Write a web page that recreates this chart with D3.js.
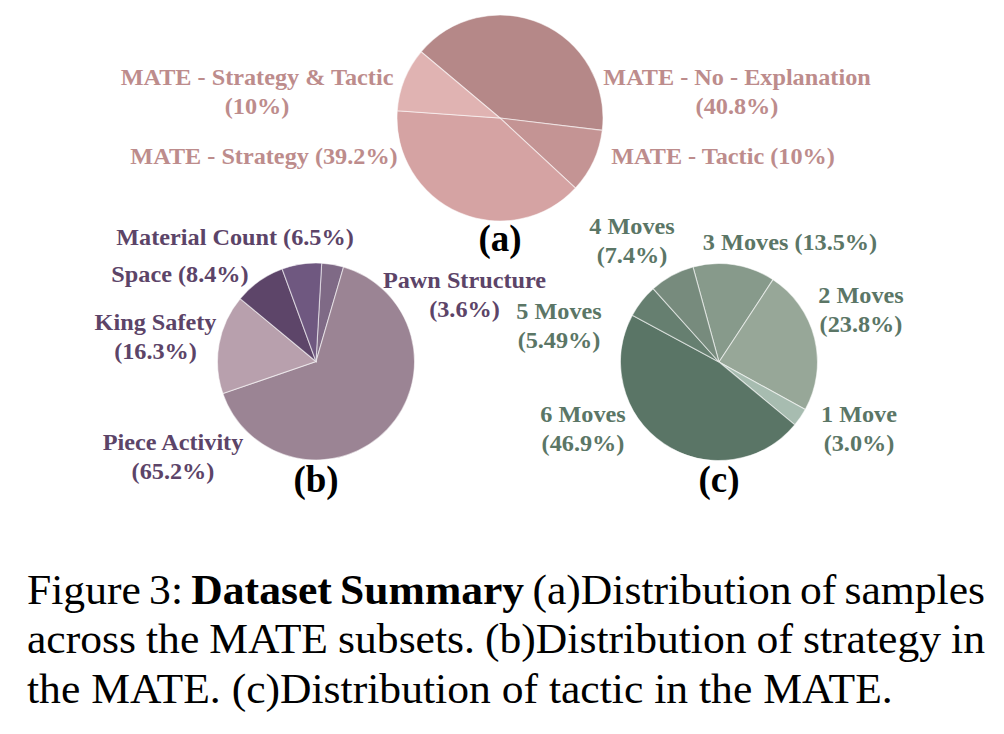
<!DOCTYPE html>
<html>
<head>
<meta charset="utf-8">
<script src="https://cdn.jsdelivr.net/npm/d3@7"></script>
<style>
  html, body { margin: 0; padding: 0; background: #fff; }
  svg { display: block; }
  text { font-family: "Liberation Serif", "Times New Roman", serif; }
</style>
</head>
<body>
<svg id="chart" width="1004" height="734"></svg>
<script>
// ---------------- data ----------------
const subsetLabels = ["MATE - No - Explanation", "MATE - Tactic", "MATE - Strategy", "MATE - Strategy & Tactic"];
const subsetValues = [40.8, 10, 39.2, 10];
const subsetPctText = ["40.8%", "10%", "39.2%", "10%"];

const strategyLabels = ["Pawn Structure", "Piece Activity", "King Safety", "Space", "Material Count"];
const strategyValues = [3.6, 65.2, 16.3, 8.4, 6.5];
const strategyPctText = ["3.6%", "65.2%", "16.3%", "8.4%", "6.5%"];

const tacticLabels = ["3 Moves", "2 Moves", "1 Move", "6 Moves", "5 Moves", "4 Moves"];
const tacticValues = [13.5, 23.8, 3.0, 46.9, 5.49, 7.4];
const tacticPctText = ["13.5%", "23.8%", "3.0%", "46.9%", "5.49%", "7.4%"];

const panelTags = ["(a)", "(b)", "(c)"];

// ---------------- styles / layout ----------------
const subsetColors = ["#b58888", "#c49494", "#d5a3a3", "#e0b3b2"];
const strategyColors = ["#7f6a86", "#9b8494", "#b8a0ad", "#5d4569", "#6f5880"];
const tacticColors = ["#879a8b", "#97a798", "#a7bcb0", "#5a7566", "#667f70", "#778b7d"];

const deg = Math.PI / 180;
const LABEL_SIZE = 24;
const LABEL_SX = 1.01;
const LINE = 29;

const panels = [
  {
    labels: subsetLabels, values: subsetValues, pct: subsetPctText, colors: subsetColors,
    textColor: "#bd8c8c", cx: 500, cy: 118, r: 103, start: -50 * deg,
    tagY: 251,
    place: [[237, -33, true], [223, 46, false], [-236, 46, false], [-243, -33, true]]
  },
  {
    labels: strategyLabels, values: strategyValues, pct: strategyPctText, colors: strategyColors,
    textColor: "#5c4468", cx: 316, cy: 361.5, r: 98.5, start: 3.3 * deg,
    tagY: 492,
    place: [[148.5, -73.5, true], [-143, 88.5, true], [-160.5, -31.5, true], [-136, -79.5, false], [-81, -116.5, false]]
  },
  {
    labels: tacticLabels, values: tacticValues, pct: tacticPctText, colors: tacticColors,
    textColor: "#5b7666", cx: 719, cy: 362, r: 98.5, start: -15.3 * deg,
    tagY: 492,
    place: [[71, -112.5, false], [142, -58.7, true], [140, 59.7, true], [-136, 59.7, true], [-160, -43, true], [-87, -128, true]]
  }
];

const svg = d3.select("#chart");

panels.forEach((p, pi) => {
  const pie = d3.pie().sort(null).value(d => d)
    .startAngle(p.start).endAngle(p.start + 2 * Math.PI);
  const arc = d3.arc().innerRadius(0).outerRadius(p.r);
  const color = d3.scaleOrdinal().domain(p.labels).range(p.colors);
  const g = svg.append("g").attr("transform", `translate(${p.cx},${p.cy})`);

  g.selectAll("path")
    .data(pie(p.values))
    .join("path")
    .attr("d", arc)
    .attr("fill", (d, i) => color(p.labels[i]))
    .attr("stroke", "rgba(255,255,255,0.55)")
    .attr("stroke-width", 1.1);

  p.labels.forEach((lab, i) => {
    const [dx, dy, two] = p.place[i];
    const t = g.append("text")
      .attr("x", dx).attr("y", dy)
      .attr("text-anchor", "middle")
      .attr("font-size", LABEL_SIZE)
      .attr("font-weight", "bold")
      .attr("fill", p.textColor)
      .attr("transform", `translate(${dx},0) scale(${LABEL_SX},1) translate(${-dx},0)`);
    if (two) {
      t.append("tspan").attr("x", dx).attr("y", dy).text(lab);
      t.append("tspan").attr("x", dx).attr("y", dy + LINE).text(`(${p.pct[i]})`);
    } else {
      t.text(`${lab} (${p.pct[i]})`);
    }
  });

  svg.append("text")
    .attr("x", p.cx).attr("y", p.tagY)
    .attr("text-anchor", "middle")
    .attr("font-size", 37)
    .attr("font-weight", "bold")
    .attr("fill", "#000")
    .text(panelTags[pi]);
});

// ---------------- caption ----------------
const captionLines = [
  [["Figure 3: ", "normal"], ["Dataset Summary", "bold"], [" (a)Distribution of samples", "normal"]],
  [["across the MATE subsets. (b)Distribution of strategy in", "normal"]],
  [["the MATE. (c)Distribution of tactic in the MATE.", "normal"]]
];
const capX = 27, capY0 = 604, capStep = 49.3, capWidth = 958, lastWidth = 866, capSize = 42.5;

const capTexts = captionLines.map((parts, li) => {
  const t = svg.append("text")
    .attr("x", capX).attr("y", capY0 + li * capStep)
    .attr("font-size", capSize)
    .attr("fill", "#000")
    .attr("xml:space", "preserve");
  parts.forEach(([s, w]) => t.append("tspan").attr("font-weight", w).text(s));
  return t;
});
// small horizontal glyph correction taken from the unjustified last line
const capSX = lastWidth / capTexts[2].node().getComputedTextLength();
capTexts.forEach((t, li) => {
  t.attr("transform", `translate(${capX},0) scale(${capSX},1) translate(${-capX},0)`);
  if (li < capTexts.length - 1) {
    const natural = t.node().getComputedTextLength();
    const spaces = captionLines[li].map(p => p[0]).join("").split(" ").length - 1;
    t.attr("word-spacing", (capWidth / capSX - natural) / spaces);
  }
});
</script>
</body>
</html>
